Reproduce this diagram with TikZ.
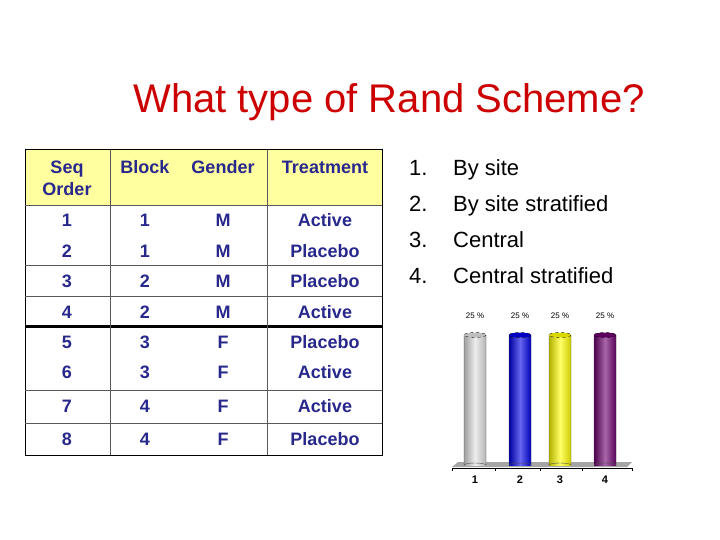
\documentclass[tikz,border=0pt]{standalone}
\usepackage{fontspec}
\setmainfont{Liberation Sans}
\usetikzlibrary{calc}
\definecolor{navy}{RGB}{40,40,140}
\definecolor{hdryellow}{RGB}{255,255,160}
\definecolor{barwhite}{RGB}{225,225,225}
\definecolor{barblue}{RGB}{0,0,230}
\definecolor{baryellow}{RGB}{255,255,0}
\definecolor{barpurple}{RGB}{110,0,110}
\tikzset{
    cell/.style={text=navy, font=\fontsize{18}{20}\selectfont\bfseries, text height=1.5ex, text depth=.25ex, yshift=-3pt},
    item/.style={anchor=west, inner sep=0pt, font=\fontsize{22}{24}\selectfont, text height=1.5ex, text depth=.25ex, yshift=-4pt},
    pct/.style={font=\fontsize{8}{9}\selectfont},
    tick label/.style={font=\fontsize{11}{12}\selectfont\bfseries}
}
\begin{document}
\begin{tikzpicture}[x=1pt,y=-1pt]
    \useasboundingbox (0,0) rectangle (720,540);
    \node (title) at (389,102) {\fontsize{40}{42}\selectfont\color{red!80!black}What type of Rand Scheme?};

    % table
    \fill[hdryellow] (25,150) rectangle (382,205);
    \draw[line width=1pt] (25,150) rectangle (382,455);
    \foreach \y in {205,265,296,390,423} {
        \draw[gray!70!black] (25,\y) -- (382,\y);
    }
    \draw[line width=3pt] (25,326) -- (382,326);
    \draw[gray!70!black] (110,150) -- (110,455);
    \draw[gray!70!black] (267,150) -- (267,455);
    \node[cell, align=center, text height=, text depth=, yshift=3pt, font=\fontsize{18}{22}\selectfont\bfseries] (hseq) at (67,178) {Seq\\Order};
    \node[cell] (hblock) at (145,167) {Block};
    \node[cell] (hgender) at (223,167) {Gender};
    \node[cell] (htreat) at (325,167) {Treatment};
    \foreach \n/\b/\g/\t/\y in {1/1/M/Active/220, 2/1/M/Placebo/251, 3/2/M/Placebo/281,
        4/2/M/Active/312, 5/3/F/Placebo/342, 6/3/F/Active/372, 7/4/F/Active/406, 8/4/F/Placebo/439} {
        \node[cell] (seq\n) at (67,\y) {\n};
        \node[cell] (block\n) at (145,\y) {\b};
        \node[cell] (gender\n) at (223,\y) {\g};
        \node[cell] (treat\n) at (325,\y) {\t};
    }

    % answer list
    \foreach \i/\txt/\y in {1/By site/168, 2/By site stratified/204, 3/Central/240, 4/Central stratified/276} {
        \node[item] (num\i) at (409,\y) {\i.};
        \node[item] (opt\i) at (453,\y) {\txt};
    }

    % bar chart
    \fill[gray!70] (458,462) -- (632,462) -- (627,467) -- (452,467) -- cycle;
    \draw (452,468) -- (632,468);
    \foreach \x in {452,495,540,582,632} {
        \draw (\x,468) -- (\x,471);
    }
    \foreach \i/\x/\c in {1/475/barwhite, 2/520/barblue, 3/560/baryellow, 4/605/barpurple} {
        \shade[left color=\c!70!black, right color=\c!80!black, middle color=\c!60!white]
            (\x-11,335) rectangle (\x+11,465);
        \draw[gray!60!black, line width=0.4pt] (\x-11,335) -- (\x-11,465) arc (180:360:11 and 2) -- (\x+11,335);
        \fill[\c!85!black] (\x,335) ellipse (11 and 2.5);
        \draw[black, dashed, line width=0.3pt] (\x,335) ellipse (11 and 2.5);
        \node[pct] (pct\i) at (\x,316) {25 \%};
        \node[tick label] (lab\i) at (\x,480) {\i};
    }
\end{tikzpicture}
\end{document}
